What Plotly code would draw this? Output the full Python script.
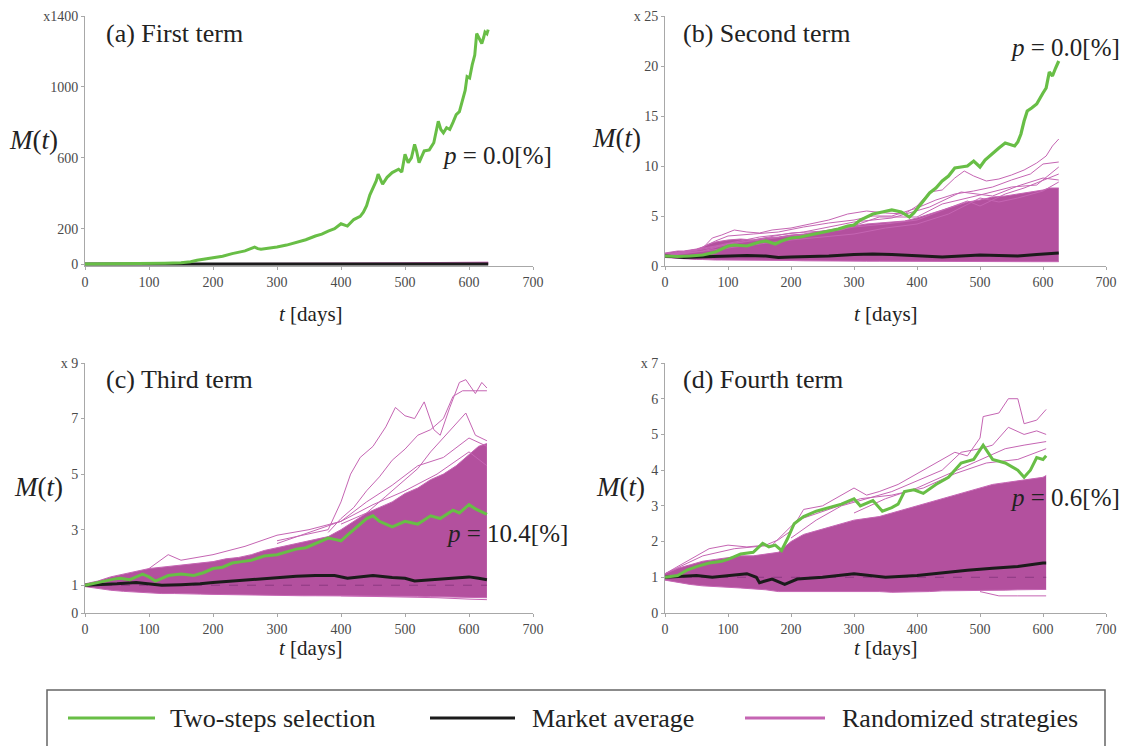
import plotly.graph_objects as go

# ---------------- data ----------------
# Panel (a) First term
a_green_t = [0,25,50,75,100,125,150,165,175,190,200,215,230,250,265,270,275,290,300,315,330,345,360,370,380,390,400,405,410,420,430,435,440,445,450,455,458,462,465,472,480,490,495,500,505,510,515,518,522,530,538,545,552,556,560,565,570,575,580,585,590,594,597,601,605,609,612,616,620,623,625,628,630]
a_green = [1,1.5,2,3,4,6,9,14,22,30,35,45,60,75,97,88,84,90,97,108,121,138,159,170,187,200,228,220,215,252,270,293,330,390,433,470,508,480,452,490,517,536,520,620,573,600,676,640,573,639,645,685,806,760,741,770,760,800,844,860,928,980,1058,1050,1124,1180,1301,1270,1245,1280,1310,1300,1323]
a_black_t = [0,100,200,300,400,500,630]
a_black = [1,1,1.1,1.3,1.3,1.2,1.4]
a_band_t = [0,100,200,300,400,500,630]
a_band_hi = [1.2,2,3,4,5,8,12]
a_band_lo = [0.8,0.6,0.5,0.5,0.5,0.5,0.4]

# Panel (b) Second term
b_green_t = [0,20,40,60,80,90,100,110,120,130,140,150,160,175,185,200,215,230,245,260,275,290,300,310,320,330,345,360,375,388,395,400,410,420,430,440,450,460,470,480,490,500,508,515,530,540,548,555,560,565,570,575,582,590,600,605,610,615,620,625]
b_green = [1.0,0.95,1.0,1.1,1.4,1.7,2.0,2.1,2.05,2.0,2.2,2.4,2.5,2.2,2.5,2.8,2.9,3.1,3.3,3.5,3.7,4.0,4.1,4.6,4.9,5.2,5.4,5.6,5.4,4.9,5.3,5.7,6.5,7.3,7.8,8.5,9.0,9.8,9.9,10.0,10.5,9.9,10.6,11.0,11.8,12.3,12.1,12.0,12.4,13.2,14.5,15.5,15.8,16.2,17.3,17.8,19.4,19.0,19.8,20.5]
b_black_t = [0,15,30,50,75,100,130,160,180,200,230,260,300,330,360,390,420,440,470,500,530,560,590,610,625]
b_black = [1.0,0.95,0.85,0.9,0.95,1.0,1.05,1.0,0.85,0.9,0.95,1.0,1.15,1.2,1.15,1.05,1.0,0.9,1.0,1.1,1.05,1.0,1.15,1.25,1.3]
b_band_t = [0,10,20,30,40,50,60,70,80,90,100,120,140,160,180,200,220,240,260,280,300,320,340,360,380,400,420,440,460,480,500,520,540,560,580,600,610,625]
b_band_hi = [1.3,1.4,1.5,1.5,1.6,1.7,1.9,2.2,2.4,2.5,2.6,2.7,2.6,2.8,2.9,3.1,3.2,3.4,3.6,3.8,4.0,4.2,4.3,4.4,4.5,4.8,5.2,5.6,6.0,6.4,6.6,6.9,7.0,7.2,7.4,7.6,7.8,7.8]
b_band_lo = [0.85,0.8,0.75,0.7,0.7,0.65,0.65,0.6,0.6,0.6,0.6,0.58,0.56,0.55,0.55,0.55,0.52,0.5,0.5,0.5,0.5,0.48,0.48,0.47,0.47,0.46,0.45,0.45,0.44,0.45,0.45,0.44,0.44,0.43,0.43,0.43,0.43,0.43]
b_r1_t = [60,75,90,110,130,150,170,200,230,260,290,320,350,380,400,420,440,460,475,490,510,530,550,570,590,605,615,625]
b_r1 = [1.8,2.8,3.1,3.6,3.4,3.3,3.6,3.8,4.2,4.6,5.2,5.5,5.3,5.2,6.0,7.4,7.6,8.8,9.5,9.0,8.5,8.7,9.1,9.6,10.3,11.0,12.0,12.7]
b_r2_t = [0,50,80,100,140,180,220,260,300,330,360,400,430,460,490,520,550,580,600,625]
b_r2 = [1.2,1.6,2.5,3.0,3.2,3.4,3.9,4.3,4.6,5.0,5.0,5.8,6.6,7.2,7.5,7.9,8.6,9.2,10.2,10.4]
b_r3_t = [0,60,100,150,200,250,300,350,400,450,480,500,540,570,600,625]
b_r3 = [1.1,1.5,2.2,2.6,3.0,3.3,3.9,4.2,4.6,5.8,6.5,6.0,7.2,7.8,8.6,9.2]
b_r4_t = [0,100,200,300,350,400,450,500,530,560,600,625]
b_r4 = [1.0,1.8,2.6,3.2,3.8,4.2,5.2,6.8,6.4,6.8,7.5,8.4]
b_r5_t = [0,80,150,220,300,360,420,470,520,560,600,625]
b_r5 = [1.1,2.0,2.9,3.4,4.4,4.8,5.9,7.4,7.0,8.0,8.8,8.6]
b_r6_t = [0,120,200,280,340,400,440,500,550,590,625]
b_r6 = [1.0,2.4,3.3,3.6,4.9,4.9,6.2,7.1,7.9,8.1,9.9]

# Panel (c) Third term
c_green_t = [0,15,30,45,55,70,80,90,100,110,120,130,150,170,185,200,215,230,245,260,280,300,315,330,345,360,380,390,400,410,420,430,440,450,460,470,480,490,500,510,520,530,540,555,565,575,585,600,610,620,628]
c_green = [1.0,1.08,1.15,1.22,1.25,1.2,1.3,1.4,1.3,1.15,1.25,1.35,1.4,1.35,1.45,1.6,1.65,1.8,1.85,1.9,2.05,2.1,2.2,2.3,2.35,2.5,2.7,2.65,2.6,2.8,3.0,3.2,3.4,3.5,3.3,3.2,3.1,3.2,3.3,3.25,3.2,3.35,3.5,3.4,3.55,3.7,3.6,3.9,3.75,3.65,3.55]
c_black_t = [0,25,50,80,100,120,150,180,200,230,260,300,330,360,390,410,430,450,480,500,515,540,570,600,615,628]
c_black = [1.0,1.02,1.05,1.1,1.05,1.0,1.02,1.05,1.1,1.15,1.2,1.28,1.32,1.35,1.35,1.25,1.3,1.35,1.28,1.25,1.15,1.2,1.25,1.3,1.25,1.2]
c_band_t = [0,20,40,60,80,100,120,140,160,180,200,220,240,260,280,300,320,340,360,380,400,420,440,460,480,500,520,540,560,580,600,615,628]
c_band_hi = [1.05,1.15,1.3,1.4,1.5,1.6,1.65,1.7,1.75,1.8,1.85,1.95,2.0,2.1,2.25,2.35,2.45,2.55,2.65,2.75,3.0,3.3,3.6,3.8,4.0,4.3,4.5,4.8,5.0,5.3,5.7,6.0,6.1]
c_band_lo = [0.95,0.88,0.82,0.78,0.75,0.72,0.7,0.7,0.68,0.68,0.67,0.66,0.65,0.65,0.64,0.63,0.63,0.62,0.62,0.62,0.61,0.61,0.6,0.6,0.6,0.6,0.6,0.59,0.58,0.58,0.57,0.56,0.55]
c_r1_t = [300,340,380,400,415,430,450,470,485,500,515,530,545,555,570,585,595,610,620,628]
c_r1 = [2.6,2.8,3.0,4.0,5.0,5.6,6.0,6.7,7.4,7.1,7.0,7.6,6.6,6.4,7.4,8.3,8.4,7.9,8.3,8.1]
c_r2_t = [380,400,420,440,460,480,500,520,540,560,575,590,610,628]
c_r2 = [2.9,3.4,3.8,4.4,4.9,5.5,5.9,6.4,6.6,7.0,7.8,8.0,8.0,8.0]
c_r3_t = [400,440,470,500,520,540,560,580,595,610,628]
c_r3 = [3.2,3.6,4.2,4.8,5.2,5.8,6.3,6.8,7.2,6.4,6.2]
c_r4_t = [100,130,150,200,250,300,350,400,450,500,550,600,628]
c_r4 = [1.6,2.1,1.9,2.1,2.4,2.8,3.0,3.3,3.9,4.4,5.0,5.8,5.3]
c_r5_t = [400,450,500,550,600,628]
c_r5 = [0.62,0.6,0.58,0.55,0.5,0.48]
c_r6_t = [300,350,400,440,480,520,560,600,628]
c_r6 = [2.5,2.9,3.3,4.0,4.6,5.3,5.6,6.3,6.0]

# Panel (d) Fourth term
d_green_t = [0,20,35,50,70,90,100,120,140,155,165,175,185,195,205,220,240,260,280,300,310,330,345,360,370,380,395,410,430,450,470,490,505,520,540,560,570,580,590,600,605]
d_green = [1.0,1.05,1.2,1.3,1.4,1.45,1.5,1.65,1.7,1.95,1.85,1.9,1.75,2.1,2.5,2.7,2.85,2.95,3.05,3.2,3.0,3.15,2.85,2.95,3.05,3.4,3.45,3.35,3.6,3.8,4.2,4.3,4.7,4.3,4.2,4.0,3.8,4.0,4.35,4.3,4.4]
d_black_t = [0,25,50,75,100,130,145,150,170,190,210,250,300,350,400,450,480,520,560,600,605]
d_black = [1.0,1.02,1.05,1.0,1.05,1.1,1.0,0.85,0.95,0.8,0.95,1.0,1.1,1.0,1.05,1.15,1.2,1.25,1.3,1.4,1.4]
d_band_t = [0,20,40,60,80,100,120,140,160,180,200,220,240,260,280,300,320,340,360,380,400,420,440,460,480,500,520,540,560,580,600,605]
d_band_hi = [1.1,1.25,1.35,1.45,1.5,1.55,1.6,1.6,1.65,1.7,2.0,2.2,2.3,2.4,2.5,2.6,2.65,2.7,2.8,2.9,3.0,3.1,3.2,3.3,3.4,3.5,3.6,3.65,3.7,3.75,3.8,3.85]
d_band_lo = [0.92,0.85,0.8,0.76,0.73,0.72,0.7,0.68,0.65,0.6,0.6,0.62,0.62,0.62,0.61,0.6,0.6,0.6,0.58,0.58,0.6,0.6,0.62,0.62,0.63,0.63,0.64,0.64,0.65,0.65,0.65,0.66]
d_r1_t = [0,40,70,100,130,160,180,200,220,250,280,300,320,340,370,400,430,460,480,500,505,530,545,560,570,590,605]
d_r1 = [1.1,1.5,1.8,1.9,1.85,1.9,2.05,2.3,2.9,3.0,3.3,3.5,3.3,3.4,3.6,3.9,4.2,4.5,4.4,4.9,5.5,5.6,6.0,6.0,5.3,5.4,5.7]
d_r2_t = [200,240,280,320,360,400,440,470,500,520,545,570,590,605]
d_r2 = [2.1,2.6,3.0,3.2,3.4,3.7,4.0,4.5,4.6,4.7,5.2,5.0,5.1,5.0]
d_r3_t = [300,350,400,450,500,540,570,605]
d_r3 = [2.8,3.2,3.5,3.9,4.3,4.6,4.7,4.8]
d_r4_t = [500,530,560,605]
d_r4 = [0.6,0.48,0.48,0.48]
d_r5_t = [0,60,110,170,210,260,310,360,410,460,510,560,605]
d_r5 = [1.1,1.6,1.8,1.9,2.6,2.9,3.2,3.3,3.5,3.9,4.2,4.3,4.6]

# axes / labels
x_ticks = [0, 100, 200, 300, 400, 500, 600, 700]
y_ticks_a = [0, 200, 600, 1000, 1400]
y_ticks_b = [0, 5, 10, 15, 20, 25]
y_ticks_c = [0, 1, 3, 5, 7, 9]
y_ticks_d = [0, 1, 2, 3, 4, 5, 6, 7]
titles = ["(a) First term", "(b) Second term", "(c) Third term", "(d) Fourth term"]
p_labels = ["0.0", "0.0", "10.4", "0.6"]
legend_names = ["Two-steps selection", "Market average", "Randomized strategies"]

# ---------------- styling ----------------
# the page body has an 8px margin, so the figure starts at (8, 8) in the window
OFF = 8
W, H = 1127 - 2 * OFF, 746 - OFF
GREEN = "#68BE46"
BLACK = "#1b1b1b"
MAG_FILL = "#B3509E"
MAG_LINE = "#C565B3"
SERIF = "Liberation Serif"
AXC = "#a8a8a8"


def px(x):
    return (x - OFF) / W


def py(y):
    return 1 - (y - OFF) / H


xdom = {1: [px(85), px(533)], 2: [px(665), px(1106)], 3: [px(85), px(533)], 4: [px(665), px(1106)]}
ydom = {1: [py(266), py(16)], 2: [py(266), py(16)], 3: [py(613), py(363)], 4: [py(613), py(363)]}

fig = go.Figure()


def refs(i):
    return ("x", "y") if i == 1 else (f"x{i}", f"y{i}")


def line(i, t, v, color, width, dash=None):
    xr, yr = refs(i)
    fig.add_trace(go.Scatter(x=t, y=v, mode="lines", xaxis=xr, yaxis=yr,
                             line=dict(color=color, width=width, dash=dash),
                             showlegend=False, hoverinfo="skip"))


def band(i, t, hi, lo):
    xr, yr = refs(i)
    fig.add_trace(go.Scatter(x=t, y=hi, mode="lines", xaxis=xr, yaxis=yr,
                             line=dict(color=MAG_LINE, width=1), showlegend=False, hoverinfo="skip"))
    fig.add_trace(go.Scatter(x=t, y=lo, mode="lines", xaxis=xr, yaxis=yr, fill="tonexty",
                             fillcolor=MAG_FILL, line=dict(color=MAG_LINE, width=1),
                             showlegend=False, hoverinfo="skip"))


# panel a
band(1, a_band_t, a_band_hi, a_band_lo)
line(1, a_black_t, a_black, BLACK, 3)
line(1, a_green_t, a_green, GREEN, 3)

# panel b
band(2, b_band_t, b_band_hi, b_band_lo)
for t, v in [(b_r1_t, b_r1), (b_r2_t, b_r2), (b_r3_t, b_r3), (b_r4_t, b_r4), (b_r5_t, b_r5), (b_r6_t, b_r6)]:
    line(2, t, v, MAG_LINE, 1)
line(2, b_black_t, b_black, BLACK, 3)
line(2, b_green_t, b_green, GREEN, 3.2)

# panel c
band(3, c_band_t, c_band_hi, c_band_lo)
for t, v in [(c_r1_t, c_r1), (c_r2_t, c_r2), (c_r3_t, c_r3), (c_r4_t, c_r4), (c_r5_t, c_r5), (c_r6_t, c_r6)]:
    line(3, t, v, MAG_LINE, 1)
line(3, [0, 628], [1, 1], "#8d3a82", 1, "dash")
line(3, c_black_t, c_black, BLACK, 3)
line(3, c_green_t, c_green, GREEN, 3)

# panel d
band(4, d_band_t, d_band_hi, d_band_lo)
for t, v in [(d_r1_t, d_r1), (d_r2_t, d_r2), (d_r3_t, d_r3), (d_r4_t, d_r4), (d_r5_t, d_r5)]:
    line(4, t, v, MAG_LINE, 1)
line(4, [0, 605], [1, 1], "#8d3a82", 1, "dash")
line(4, d_black_t, d_black, BLACK, 3)
line(4, d_green_t, d_green, GREEN, 3)

axis_common = dict(showline=True, linecolor=AXC, linewidth=1, ticks="outside", ticklen=3,
                   tickcolor=AXC, showgrid=False, zeroline=False, automargin=False,
                   tickfont=dict(family=SERIF, size=14, color="#4a4a4a"))

y_specs = {1: (y_ticks_a, [-10, 1400]), 2: (y_ticks_b, [0, 25]), 3: (y_ticks_c, [0, 9]), 4: (y_ticks_d, [0, 7])}

layout_axes = {}
for i in range(1, 5):
    xn = "xaxis" if i == 1 else f"xaxis{i}"
    yn = "yaxis" if i == 1 else f"yaxis{i}"
    xr, yr = refs(i)
    yt, yrange = y_specs[i]
    ytext = [str(v) for v in yt]
    ytext[-1] = ("x" if i == 1 else "x ") + ytext[-1]
    layout_axes[xn] = dict(axis_common, domain=xdom[i], range=[0, 700], tickvals=x_ticks,
                           anchor=yr)
    layout_axes[yn] = dict(axis_common, domain=ydom[i], range=yrange, tickvals=yt,
                           ticktext=ytext, anchor=xr)

fig.update_layout(**layout_axes)

ann = []
# panel titles
for (x, y), txt in zip([(104, 33), (681, 33), (104, 379), (681, 379)], titles):
    ann.append(dict(x=px(x), y=py(y), xref="paper", yref="paper", xanchor="left", yanchor="middle",
                    text=txt, showarrow=False, font=dict(family=SERIF, size=26, color="#222")))
# M(t)
for (x, y) in [(33, 140), (616, 138), (38, 487), (620, 487)]:
    ann.append(dict(x=px(x), y=py(y), xref="paper", yref="paper", xanchor="center", yanchor="middle",
                    text="<i>M</i>(<i>t</i>)", showarrow=False, font=dict(family=SERIF, size=27, color="#222")))
# t [days]
for (x, y) in [(311, 314), (886, 314), (311, 648), (886, 648)]:
    ann.append(dict(x=px(x), y=py(y), xref="paper", yref="paper", xanchor="center", yanchor="middle",
                    text="<i>t</i> [days]", showarrow=False, font=dict(family=SERIF, size=21, color="#222")))
# p values
for (x, y), pv in zip([(440, 155), (1008, 47), (444, 533), (1008, 497)], p_labels):
    ann.append(dict(x=px(x), y=py(y), xref="paper", yref="paper", xanchor="left", yanchor="middle",
                    text=f"<i>p</i> = {pv}[%]", showarrow=False, font=dict(family=SERIF, size=25, color="#222")))

# legend (drawn)
shapes = [dict(type="rect", xref="paper", yref="paper", x0=px(47), x1=px(1105), y0=py(760), y1=py(690),
               line=dict(color="#666", width=1.5), fillcolor="rgba(0,0,0,0)")]
legend_cols = [GREEN, BLACK, MAG_LINE]
legend_lines = [(68, 155), (430, 515), (745, 825)]
legend_text_x = [168, 530, 840]
for (x0, x1), c, tx, name in zip(legend_lines, legend_cols, legend_text_x, legend_names):
    shapes.append(dict(type="line", xref="paper", yref="paper", x0=px(x0), x1=px(x1), y0=py(718), y1=py(718),
                       line=dict(color=c, width=3)))
    ann.append(dict(x=px(tx), y=py(718), xref="paper", yref="paper", xanchor="left", yanchor="middle",
                    text=name, showarrow=False, font=dict(family=SERIF, size=26, color="#222")))

fig.update_layout(width=W, height=H, margin=dict(l=0, r=0, t=0, b=0), paper_bgcolor="white",
                  plot_bgcolor="white", annotations=ann, shapes=shapes, showlegend=False)

fig.write_html("out.html")
